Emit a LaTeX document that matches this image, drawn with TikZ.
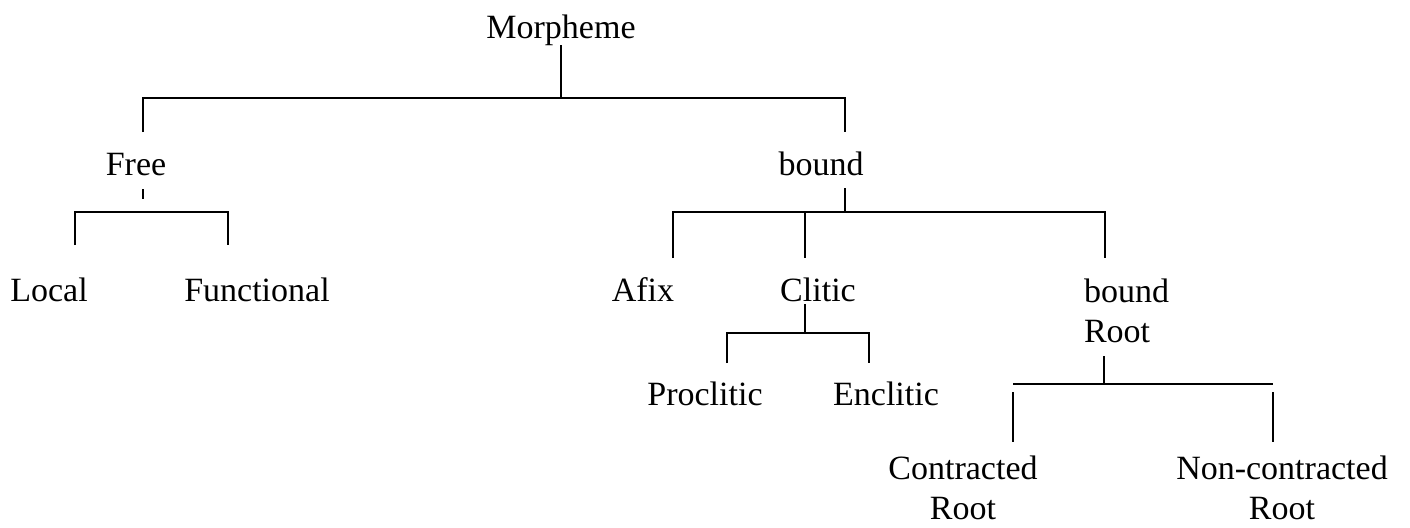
\documentclass[tikz,border=0pt]{standalone}
\usepackage{fontspec}
\setmainfont{Liberation Serif}

\begin{document}
\begin{tikzpicture}[x=0.5pt,y=-0.5pt,line width=1pt]

% ------------------------------------------------ styles
\tikzset{lbl/.style={anchor=base,inner sep=0pt,align=center,font=\fontsize{17}{20}\selectfont}}

\useasboundingbox (0,0) rectangle (1410,527);

% ------------------------------------------------ labels
\node[lbl] (morph) at (561,38)  {Morpheme};
\node[lbl] (free)  at (136,175) {Free};
\node[lbl] (bound) at (821,175) {bound};
\node[lbl] (local) at (49,301)  {Local};
\node[lbl] (func)  at (257,301) {Functional};
\node[lbl] (afix)  at (643,301) {Afix};
\node[lbl] (clit)  at (818,301) {Clitic};
\node[lbl,anchor=base west,align=left] (broot) at (1083,342) {bound\\Root};
\node[lbl] (procl) at (705,405) {Proclitic};
\node[lbl] (encl)  at (886,405) {Enclitic};
\node[lbl] (contr) at (963,519) {Contracted\\Root};
\node[lbl] (ncontr) at (1282,519) {Non-contracted\\Root};

% ------------------------------------------------ Morpheme
\coordinate (m0) at (561,45);
\coordinate (m1) at (561,98);
\coordinate (fr0) at (143,98);
\coordinate (fr1) at (143,132);
\coordinate (bd0) at (845,98);
\coordinate (bd1) at (845,132);
\draw (m0) -- (m1);
\draw (fr1) -- (fr0) -- (bd0) -- (bd1);

% ------------------------------------------------ Free
\coordinate (f0) at (143,189);
\coordinate (f1) at (143,199);
\coordinate (lo0) at (75,212);
\coordinate (lo1) at (75,245);
\coordinate (fu0) at (228,212);
\coordinate (fu1) at (228,245);
\draw (f0) -- (f1);
\draw (lo1) -- (lo0) -- (fu0) -- (fu1);

% ------------------------------------------------ bound
\coordinate (b0) at (845,188);
\coordinate (b1) at (845,212);
\coordinate (af0) at (673,212);
\coordinate (af1) at (673,258);
\coordinate (cl0) at (805,212);
\coordinate (cl1) at (805,258);
\coordinate (br0) at (1105,212);
\coordinate (br1) at (1105,258);
\draw (b0) -- (b1);
\draw (af1) -- (af0) -- (br0) -- (br1);
\draw (cl0) -- (cl1);

% ------------------------------------------------ Clitic
\coordinate (c0) at (805,304);
\coordinate (c1) at (805,333);
\coordinate (pr0) at (727,333);
\coordinate (pr1) at (727,363);
\coordinate (en0) at (869,333);
\coordinate (en1) at (869,363);
\draw (c0) -- (c1);
\draw (pr1) -- (pr0) -- (en0) -- (en1);

% ------------------------------------------------ bound Root
\coordinate (r0) at (1104,356);
\coordinate (r1) at (1104,384);
\coordinate (co0) at (1013,384);
\coordinate (nc0) at (1273,384);
\coordinate (co1) at (1013,392);
\coordinate (co2) at (1013,442);
\coordinate (nc1) at (1273,392);
\coordinate (nc2) at (1273,442);
\draw (r0) -- (r1);
\draw (co0) -- (nc0);
\draw (co1) -- (co2);
\draw (nc1) -- (nc2);

\end{tikzpicture}
\end{document}
